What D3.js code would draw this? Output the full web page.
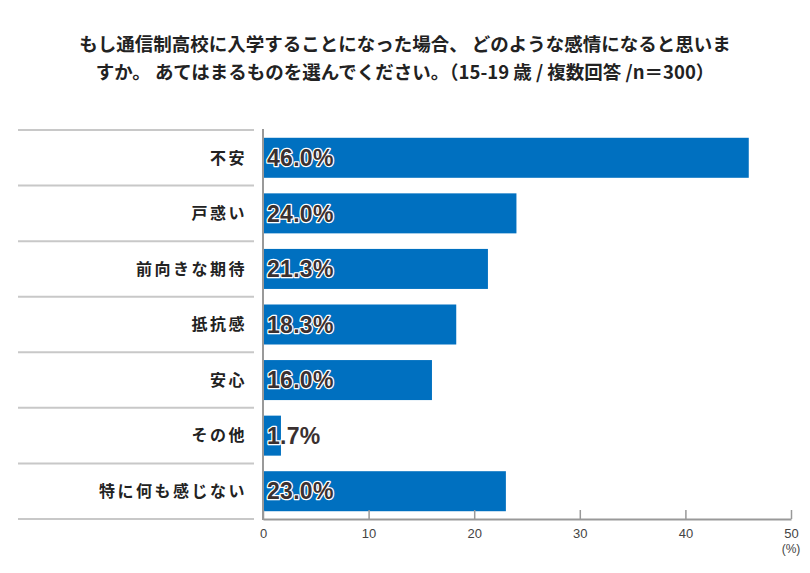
<!DOCTYPE html>
<html><head><meta charset="utf-8">
<script src="https://cdn.jsdelivr.net/npm/d3@7"></script>
<style>body{margin:0;background:#fff;}svg{display:block;}</style>
</head><body>
<svg id="c" width="810" height="573"></svg>
<script>
const titleLines = ["もし通信制高校に入学することになった場合、 どのような感情になると思いま","すか。 あてはまるものを選んでください。（15-19 歳 / 複数回答 /n＝300）"];
const categories = ["不安","戸惑い","前向きな期待","抵抗感","安心","その他","特に何も感じない"];
const values = [46.0,24.0,21.3,18.3,16.0,1.7,23.0];
const ticks = [0,10,20,30,40,50];

const svg = d3.select("#c");
const jp = "'Noto Sans CJK JP','Noto Sans CJK SC',sans-serif";
const x = d3.scaleLinear().domain([0,50]).range([263,791]);
const y = d3.scaleBand().domain(categories).range([130,519]).paddingInner(0.28).paddingOuter(0.14);
const step = y.step();

svg.selectAll("text.title").data(titleLines).enter().append("text")
  .attr("x",405).attr("y",(d,i)=>51+i*28).attr("text-anchor","middle")
  .attr("font-family",jp).attr("font-weight","bold").attr("font-size",18.5).attr("fill","#222")
  .text(d=>d);

// separators
const seps = categories.map((c,i)=>130+i*step).concat([519]);
svg.selectAll("line.sep").data(seps).enter().append("line")
  .attr("x1",18).attr("x2",254).attr("y1",d=>d).attr("y2",d=>d)
  .attr("stroke","#c8c8c8").attr("stroke-width",2);

// bars
svg.selectAll("rect.bar").data(values).enter().append("rect")
  .attr("x",x(0)).attr("y",(d,i)=>y(categories[i]))
  .attr("width",d=>x(d)-x(0)).attr("height",y.bandwidth())
  .attr("fill","#0070c0");

// axis
const axis = d3.axisBottom(x).tickValues(ticks).tickSize(0).tickPadding(10);
const g = svg.append("g").attr("transform","translate(0,519)").call(axis);
g.select(".domain").attr("stroke","#999").attr("stroke-width",2);
g.selectAll(".tick text").attr("font-family","'Liberation Sans',Arial,sans-serif").attr("font-size",13).attr("fill","#444");
g.selectAll(".tick").append("line").attr("y1",0).attr("y2",-9).attr("stroke","#999").attr("stroke-width",1.5);
svg.append("line").attr("x1",x(0)).attr("x2",x(0)).attr("y1",129).attr("y2",520).attr("stroke","#999").attr("stroke-width",2);
svg.append("text").attr("x",791).attr("y",553).attr("text-anchor","middle")
  .attr("font-family","'Liberation Sans',Arial,sans-serif").attr("font-size",12).attr("fill","#444").text("(%)");

// category labels
svg.selectAll("text.cat").data(categories).enter().append("text")
  .attr("x",247).attr("y",d=>y(d)+y.bandwidth()/2).attr("dy","0.36em").attr("text-anchor","end")
  .attr("font-family",jp).attr("font-weight","bold").attr("font-size",16).attr("letter-spacing",2.5)
  .attr("fill","#222").text(d=>d);

// value labels
svg.selectAll("text.val").data(values).enter().append("text")
  .attr("x",267).attr("y",(d,i)=>y(categories[i])+y.bandwidth()/2).attr("dy","0.36em")
  .attr("font-family","'Liberation Sans',Arial,sans-serif").attr("font-size",23).attr("font-weight","bold")
  .attr("letter-spacing",0.3)
  .attr("fill","#3a3030").attr("stroke","#fff").attr("stroke-width",2.5).attr("paint-order","stroke")
  .attr("stroke-linejoin","round")
  .text(d=>d.toFixed(1)+"%");
</script>
</body></html>
